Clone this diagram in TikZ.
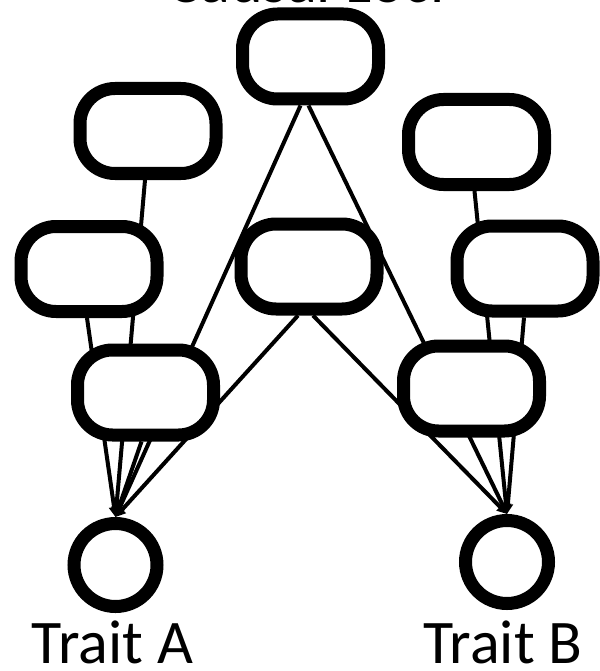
\documentclass[tikz,border=0pt]{standalone}
\usepackage{fontspec}
\setmainfont{Carlito}
\usetikzlibrary{arrows.meta,backgrounds}
\tikzset{
  locus/.style={draw=black, fill=white, line width=13pt, rectangle, rounded corners=35pt,
    minimum width=136pt, minimum height=85pt, inner sep=0pt},
  trait/.style={draw=black, fill=white, line width=13pt, circle, minimum size=83pt, inner sep=0pt},
  edge/.style={line width=4pt, -{Triangle[length=10pt,width=10pt]}},
  lbl/.style={font=\fontsize{62}{70}\selectfont, anchor=base, inner sep=0pt}
}
\begin{document}
\begin{tikzpicture}[x=1pt,y=-1pt]
\useasboundingbox (0,0) rectangle (599,671);
\node[locus] (top) at (310.5,56.5) {};
\node[locus] (ul) at (148,131) {};
\node[locus] (ur) at (476.5,142) {};
\node[locus] (ml) at (89,269) {};
\node[locus] (mid) at (309,266.5) {};
\node[locus] (mr) at (525,268.5) {};
\node[locus] (ll) at (145.5,392.5) {};
\node[locus] (lr) at (471.5,388.5) {};
\node[trait] (A) at (115.5,565) {};
\node[trait] (B) at (507,562) {};
\node[lbl] (ta) at (112.5,663) {Trait A};
\node[lbl] (tb) at (503,663) {Trait B};
\node[lbl] (cl) at (306,2.5) {Causal Loci};
\begin{scope}[on background layer]
\draw[edge] ([xshift=-3pt]ul.south) -- (A.north);
\draw[edge] ([xshift=-2pt]ml.south) -- (A.north);
\draw[edge] ([xshift=-10pt]top.south) -- (A.north);
\draw[edge] ([xshift=-11pt]mid.south) -- (A.north);
\draw[edge] ([xshift=-4pt]ll.south) -- (A.north);
\draw[edge] ([xshift=-2pt]ur.south) -- (B.north);
\draw[edge] ([xshift=-1pt]mr.south) -- (B.north);
\draw[edge] ([xshift=-2pt]top.south) -- (B.north);
\draw[edge] ([xshift=4pt]mid.south) -- (B.north);
\end{scope}
\end{tikzpicture}
\end{document}
